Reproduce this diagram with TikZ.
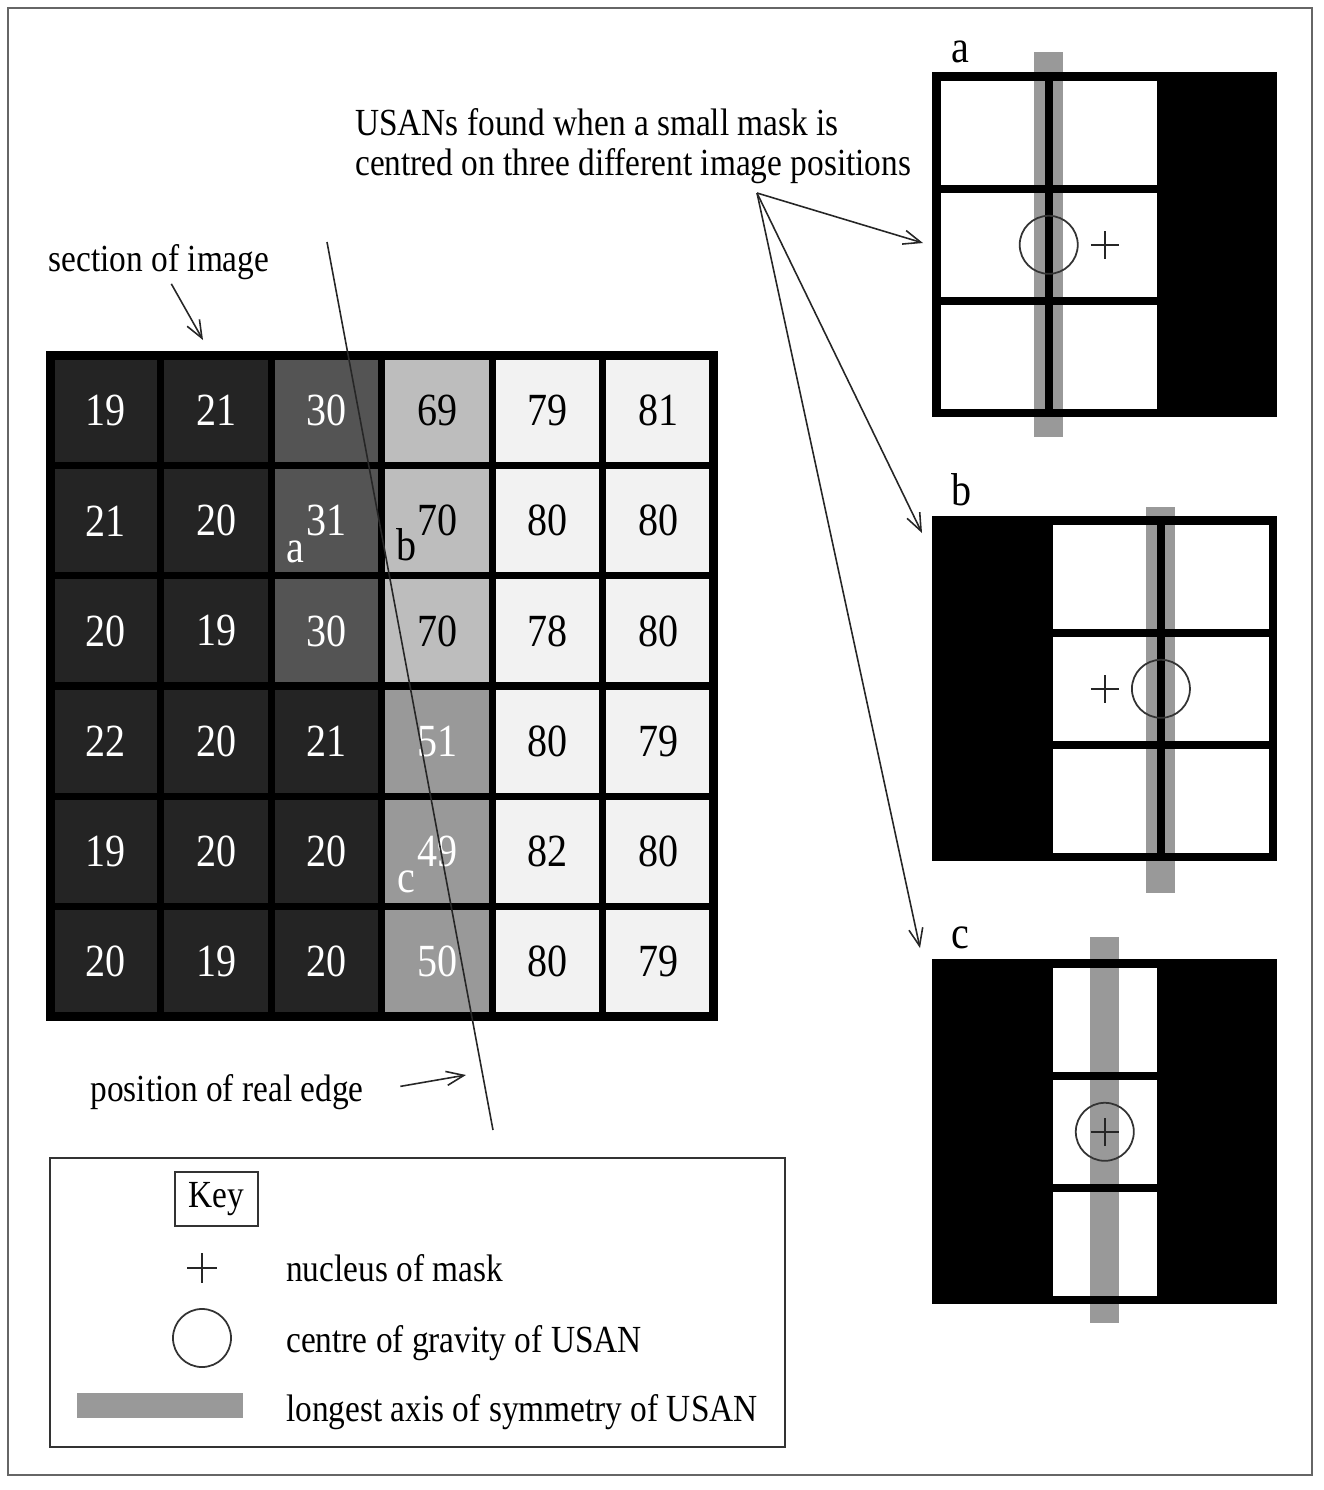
\documentclass[tikz,border=0pt]{standalone}
\usepackage{fontspec}
\setmainfont{Liberation Serif}[FakeStretch=0.87]
\usetikzlibrary{arrows.meta}
\colorlet{CellDark}{black!86}
\colorlet{CellMid}{black!67}
\colorlet{CellLight}{black!26}
\colorlet{CellGrey}{black!40}
\colorlet{CellWhite}{black!5}
\colorlet{BarGrey}{black!40}
\tikzset{
  cell/.style={draw=black, line width=2pt, minimum width=1.105cm, minimum height=1.1017cm, inner sep=0pt, outer sep=0pt, font=\fontsize{13.1}{15}\selectfont},
  cdark/.style={fill=CellDark, text=white},
  cmid/.style={fill=CellMid, text=white},
  clight/.style={fill=CellLight, text=black},
  cgrey/.style={fill=CellGrey, text=white},
  cwhite/.style={fill=CellWhite, text=black},
  maskcell/.style={minimum size=1.122cm, inner sep=0pt, outer sep=0pt},
  maskline/.style={draw=black, line width=2.3pt},
  lbl/.style={font=\fontsize{10.9}{13}\selectfont, inner sep=1pt},
  tag/.style={font=\fontsize{13.1}{15}\selectfont, inner sep=0pt, anchor=base},
  ptr/.style={line width=0.45pt, black!85, -{Straight Barb[length=5pt,width=4pt]}},
  edgeline/.style={line width=0.45pt, black!85},
  ring/.style={draw=black!80, line width=0.5pt},
  nucleus/.style={black!85, line width=0.55pt},
  keyline/.style={draw=black!80, line width=0.5pt}
}
\begin{document}
\begin{tikzpicture}[x=0.01cm, y=-0.01cm]
  \useasboundingbox (0,0) rectangle (1324,1490);
  \draw[black!60, line width=0.6pt] (8,8) rectangle (1312,1475);

  % section of image
  \foreach \row [count=\j from 0] in {
      {19/cdark,21/cdark,30/cmid,69/clight,79/cwhite,81/cwhite},
      {21/cdark,20/cdark,31/cmid,70/clight,80/cwhite,80/cwhite},
      {20/cdark,19/cdark,30/cmid,70/clight,78/cwhite,80/cwhite},
      {22/cdark,20/cdark,21/cdark,51/cgrey,80/cwhite,79/cwhite},
      {19/cdark,20/cdark,20/cdark,49/cgrey,82/cwhite,80/cwhite},
      {20/cdark,19/cdark,20/cdark,50/cgrey,80/cwhite,79/cwhite}} {
    \foreach \val/\tone [count=\i from 0] in \row {
      \node[cell, \tone] (c\i\j) at ({105.75+110.5*\i},{410.6+110.17*\j}) {\val};
    }
  }
  \draw[line width=2.4pt] (c00.north west) rectangle (c55.south east);
  \node[tag, text=white] (posa) at (295,562) {a};
  \node[tag, text=black] (posb) at (407,560) {b};
  \node[tag, text=white] (posc) at (406,892) {c};

  \coordinate (edgetop) at (327,242);
  \coordinate (edgebot) at (493,1130);
  \draw[edgeline] (edgetop) -- (edgebot);

  \node[lbl] (secimg) at (159,262) {section of image};
  \coordinate (secpt) at (203,340);
  \draw[ptr] (secimg) -- (secpt);
  \node[lbl] (realedge) at (227,1092) {position of real edge};
  \coordinate (edgept) at (466,1075);
  \draw[ptr, shorten <=0.33cm] (realedge.east) -- (edgept);

  % masks
  \node[lbl, anchor=base west] (usan1) at (351,135) {USANs found when a small mask is};
  \node[lbl, anchor=base west] (usan2) at (351,175) {centred on three different image positions};
  \coordinate (fan) at (757,193);
  \coordinate (toa) at (923,243);
  \coordinate (tob) at (922,533);
  \coordinate (toc) at (920,948);
  \draw[ptr] (fan) -- (toa);
  \draw[ptr] (fan) -- (tob);
  \draw[ptr] (fan) -- (toc);

  % mask a
  \node[tag] (laba) at (960,62) {a};
  \foreach \tone [count=\i from 0] in {white,white,black}
    \foreach \j in {0,1,2}
      \node[maskcell, fill=\tone] (ma\i\j) at ({992.6+112.2*\i},{132.6+112.2*\j}) {};
  \fill[BarGrey] (1034,52) rectangle (1063,437);
  \foreach \i in {0,1,2}
    \foreach \j in {0,1,2}
      \draw[maskline] (ma\i\j.north west) rectangle (ma\i\j.south east);
  \draw[ring] (ma01.east) circle (0.29cm);
  \draw[nucleus] ([xshift=-0.14cm]ma11.center) -- ([xshift=0.14cm]ma11.center)
                 ([yshift=-0.14cm]ma11.center) -- ([yshift=0.14cm]ma11.center);

  % mask b
  \node[tag] (labb) at (962,505) {b};
  \foreach \tone [count=\i from 0] in {black,white,white}
    \foreach \j in {0,1,2}
      \node[maskcell, fill=\tone] (mb\i\j) at ({992.6+112.2*\i},{576.6+112.2*\j}) {};
  \fill[BarGrey] (1146,507) rectangle (1175,893);
  \foreach \i in {0,1,2}
    \foreach \j in {0,1,2}
      \draw[maskline] (mb\i\j.north west) rectangle (mb\i\j.south east);
  \draw[ring] (mb11.east) circle (0.29cm);
  \draw[nucleus] ([xshift=-0.14cm]mb11.center) -- ([xshift=0.14cm]mb11.center)
                 ([yshift=-0.14cm]mb11.center) -- ([yshift=0.14cm]mb11.center);

  % mask c
  \node[tag] (labc) at (960,948) {c};
  \foreach \tone [count=\i from 0] in {black,white,black}
    \foreach \j in {0,1,2}
      \node[maskcell, fill=\tone] (mc\i\j) at ({992.6+112.2*\i},{1019.6+112.2*\j}) {};
  \fill[BarGrey] (1090,937) rectangle (1119,1323);
  \foreach \i in {0,1,2}
    \foreach \j in {0,1,2}
      \draw[maskline] (mc\i\j.north west) rectangle (mc\i\j.south east);
  \draw[ring] (mc11) circle (0.29cm);
  \draw[nucleus] ([xshift=-0.14cm]mc11.center) -- ([xshift=0.14cm]mc11.center)
                 ([yshift=-0.14cm]mc11.center) -- ([yshift=0.14cm]mc11.center);

  % key
  \draw[keyline] (50,1158) rectangle (785,1447);
  \node[lbl, keyline, minimum width=0.83cm, minimum height=0.54cm] (keyhead) at (216.5,1199) {Key};
  \draw[nucleus] (187,1268) -- +(30,0) (202,1253) -- +(0,30);
  \draw[ring] (202,1338) circle (0.29cm);
  \fill[BarGrey] (77,1393) rectangle (243,1418);
  \node[lbl, anchor=base west] (keynuc) at (282,1281) {nucleus of mask};
  \node[lbl, anchor=base west] (keycog) at (282,1352) {centre of gravity of USAN};
  \node[lbl, anchor=base west] (keyaxis) at (282,1421) {longest axis of symmetry of USAN};
\end{tikzpicture}
\end{document}
